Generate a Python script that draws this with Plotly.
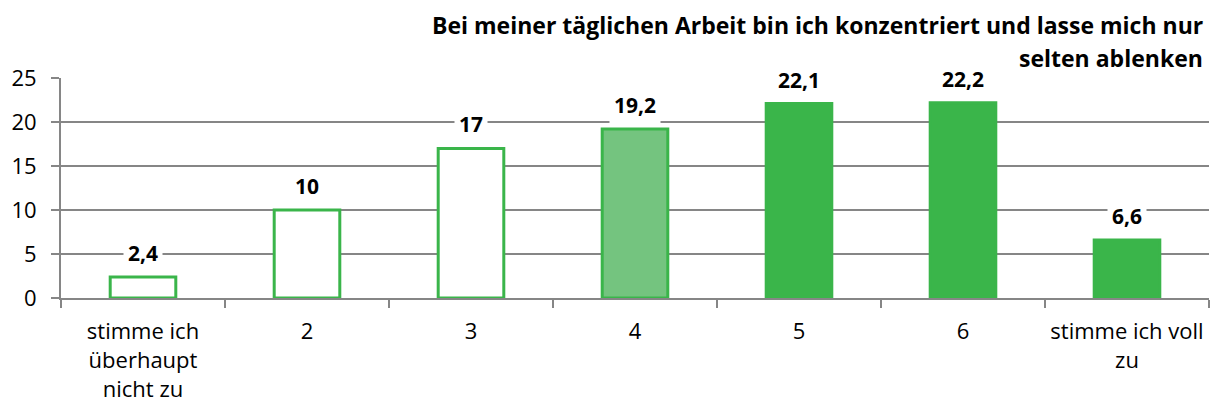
import plotly.graph_objects as go

categories = ["stimme ich<br>überhaupt<br>nicht zu", "2", "3", "4", "5", "6", "stimme ich voll<br>zu"]
values = [2.4, 10, 17, 19.2, 22.1, 22.2, 6.6]
value_labels = ["2,4", "10", "17", "19,2", "22,1", "22,2", "6,6"]
title_lines = ["Bei meiner täglichen Arbeit bin ich konzentriert und lasse mich nur", "selten ablenken"]

green = "#3AB54A"
fills = ["white", "white", "white", "#74C47F", green, green, green]
grey = "#868686"

FONT = "Open Sans"
fig = go.Figure()

fig.add_trace(go.Bar(
    x=categories, y=values,
    marker=dict(color=fills, line=dict(color=green, width=3)),
    width=0.4,
))

# value labels with white box, covering the gridlines like the original
# (x given as category index)
for i, (val, lab) in enumerate(zip(values, value_labels)):
    fig.add_annotation(
        x=i, y=val, text="<b>" + lab + "</b>", showarrow=False,
        yshift=24, bgcolor="white", borderpad=4,
        font=dict(family=FONT, size=21, color="black"),
    )

# right aligned two-line title
for line, shift in zip(title_lines, [53, 20]):
    fig.add_annotation(
        xref="paper", yref="paper", x=1, y=1, xanchor="right", yanchor="middle",
        xshift=-4, yshift=shift, text="<b>" + line + "</b>", showarrow=False,
        font=dict(family=FONT, size=23, color="black"),
    )

# the page body has an 8px margin, so the figure is 16px smaller than the window
fig.update_layout(
    width=1203, height=395,
    margin=dict(l=53, r=2, t=70, b=105),
    plot_bgcolor="white", paper_bgcolor="white",
    showlegend=False,
    font=dict(family=FONT, size=23, color="black"),
    xaxis=dict(
        type="category", tickangle=0, automargin=False,
        showline=True, linecolor=grey, linewidth=2,
        ticks="outside", tickson="boundaries", ticklen=8, tickwidth=2, tickcolor=grey,
        showgrid=False, tickfont=dict(size=22), ticklabelstandoff=13,
    ),
    yaxis=dict(
        range=[0, 25], dtick=5, showline=True, linecolor=grey, linewidth=2,
        ticks="outside", ticklen=8, tickwidth=2, tickcolor=grey, automargin=False,
        showgrid=True, gridcolor=grey, gridwidth=2, zeroline=False,
        tickfont=dict(size=22), ticklabelstandoff=10,
    ),
)

fig.write_html("out.html")
